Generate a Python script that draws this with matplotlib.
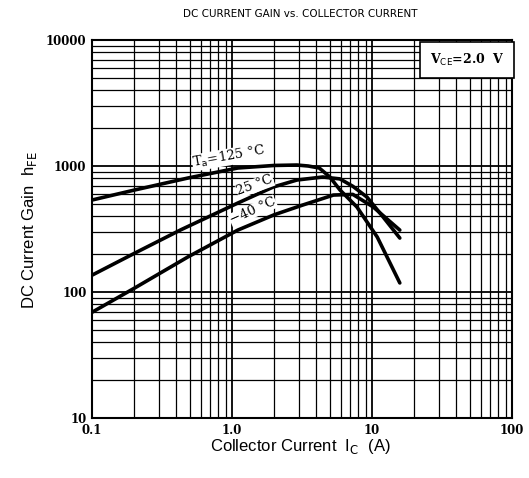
import matplotlib
matplotlib.use("Agg")
import matplotlib.pyplot as plt
import numpy as np
from matplotlib.ticker import LogLocator, NullFormatter

# Data
ic_125 = [0.1, 0.203, 0.485, 1.1, 2.0, 2.91, 3.5, 4.2, 5.0, 5.9, 7.8, 10.9, 15.8]
hfe_125 = [537, 646, 803, 964, 1010, 1018, 1000, 964, 818, 646, 473, 273, 118]

ic_25 = [0.1, 0.203, 0.432, 1.1, 1.97, 2.91, 4.45, 5.9, 7.3, 9.2, 12.0, 15.8]
hfe_25 = [136, 204, 312, 508, 681, 774, 818, 790, 690, 567, 394, 268]

ic_m40 = [0.1, 0.203, 0.485, 1.1, 2.0, 3.2, 5.3, 7.3, 10.2, 15.8]
hfe_m40 = [69, 108, 190, 310, 410, 490, 588, 595, 473, 310]

x_ticks = [0.1, 1, 10, 100]
x_ticklabels = ["0.1", "1.0", "10", "100"]
y_ticks = [10, 100, 1000, 10000]
y_ticklabels = ["10", "100", "1000", "10000"]

fig = plt.figure(figsize=(5.29, 4.78), dpi=100)
ax = fig.add_axes([92/529, 60/478, 420/529, 378/478])
ax.set_xscale("log")
ax.set_yscale("log")
ax.set_xlim(0.1, 100)
ax.set_ylim(10, 10000)

# grid
ax.xaxis.set_minor_locator(LogLocator(base=10, subs=np.arange(2, 10)))
ax.yaxis.set_minor_locator(LogLocator(base=10, subs=np.arange(2, 10)))
ax.xaxis.set_minor_formatter(NullFormatter())
ax.yaxis.set_minor_formatter(NullFormatter())
ax.grid(True, which="major", color="black", linewidth=1.3)
ax.grid(True, which="minor", color="black", linewidth=0.9)
ax.set_axisbelow(True)

ax.set_xticks(x_ticks)
ax.set_xticklabels(x_ticklabels)
ax.set_yticks(y_ticks)
ax.set_yticklabels(y_ticklabels)
ax.tick_params(which="both", length=0, pad=4)
for lab in ax.get_xticklabels() + ax.get_yticklabels():
    lab.set_family("DejaVu Serif")
    lab.set_fontweight("bold")
    lab.set_fontsize(8.5)

for s in ax.spines.values():
    s.set_linewidth(1.5)
    s.set_color("black")

for xs, ys in [(ic_125, hfe_125), (ic_25, hfe_25), (ic_m40, hfe_m40)]:
    ax.plot(xs, ys, color="black", linewidth=2.6, solid_capstyle="round",
            solid_joinstyle="round", zorder=3)

bbox = dict(facecolor="white", edgecolor="none", pad=0.3)
ax.text(0.95, 1180, r"T$_{\rm a}$=125 °C", rotation=10, ha="center", va="center",
        family="DejaVu Serif", fontsize=9.5, bbox=bbox, zorder=4)
ax.text(1.46, 700, "25 °C", rotation=20, ha="center", va="center",
        family="DejaVu Serif", fontsize=9.5, bbox=bbox, zorder=4)
ax.text(1.41, 440, "−40 °C", rotation=24, ha="center", va="center",
        family="DejaVu Serif", fontsize=9.5, bbox=bbox, zorder=4)

ax.text(0.982, 0.968, r"V$_{\rm CE}$=2.0  V", transform=ax.transAxes, ha="right", va="top",
        family="DejaVu Serif", fontweight="bold", fontsize=9,
        bbox=dict(facecolor="white", edgecolor="black", linewidth=1.2, boxstyle="square,pad=0.8"),
        zorder=5)

fig.text(300/529, 1 - 14/478, "DC CURRENT GAIN vs. COLLECTOR CURRENT", ha="center", va="center",
         family="DejaVu Sans", fontsize=7.5)
fig.text(300/529, 1 - 446/478, r"Collector Current  I$_{\rm C}$  (A)", ha="center", va="center",
         family="Liberation Sans", fontsize=12)
fig.text(30/529, 1 - 230/478, r"DC Current Gain  h$_{\rm FE}$", ha="center", va="center",
         rotation=90, family="Liberation Sans", fontsize=12)

fig.savefig("out.png", dpi=100, facecolor="white")
